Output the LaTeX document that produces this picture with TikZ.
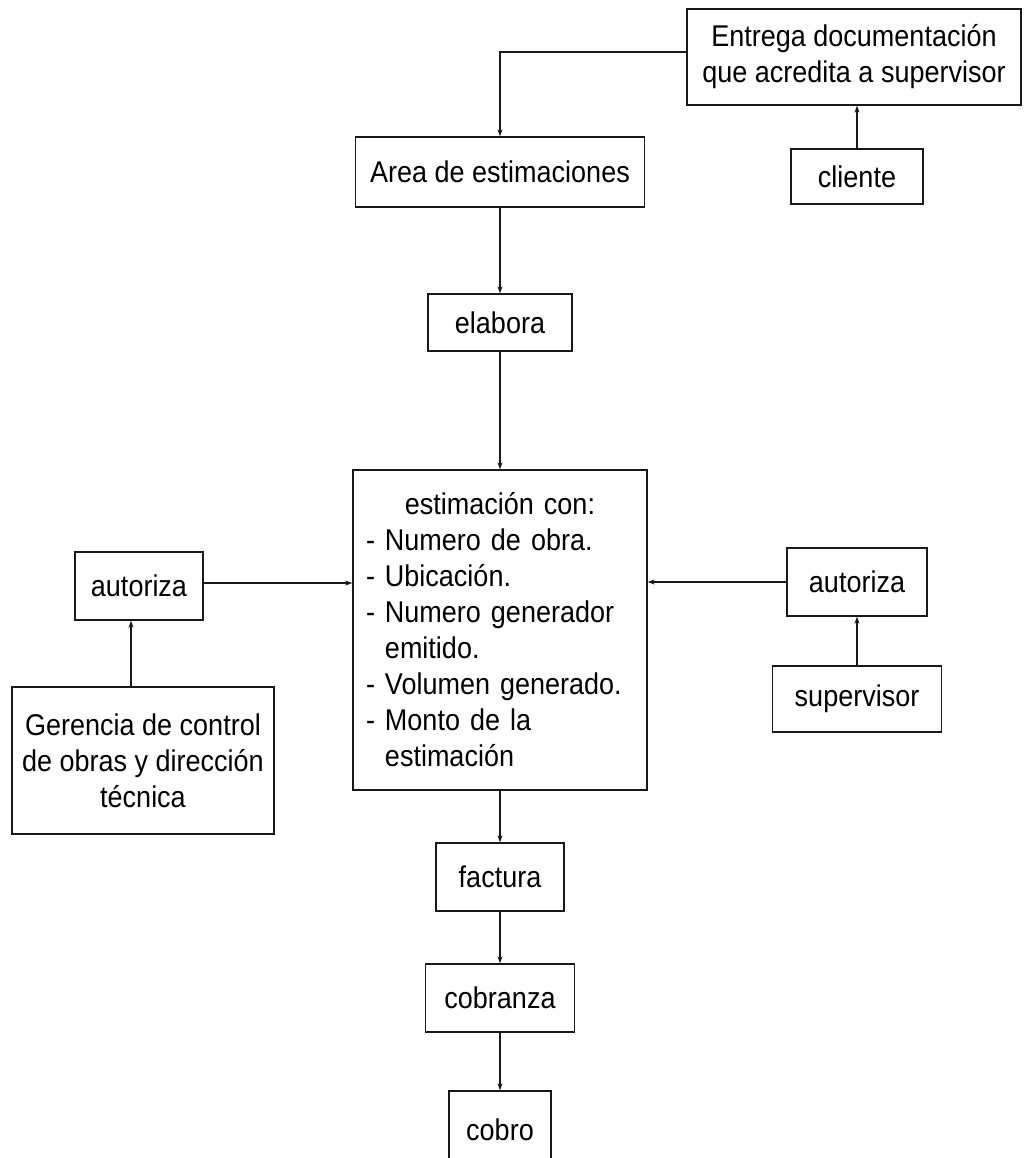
\documentclass[tikz,border=0pt]{standalone}
\usepackage{fontspec}
\setmainfont[FakeStretch=0.9]{Liberation Sans}
\usetikzlibrary{arrows.meta}

\begin{document}
\begin{tikzpicture}[x=1pt,y=-1pt,
  box/.style={draw=black!90, line width=1.3pt, inner sep=0pt, align=center,
    font={\fontsize{30}{36}\selectfont}},
  link/.style={draw=black!90, line width=1.4pt, -{Stealth[length=7pt,width=5pt]}}]

\useasboundingbox (0,0) rectangle (1025,1158);
\clip (0,0) rectangle (1025,1158);
\fill[white] (0,0) rectangle (1025,1158);

% top: delivery of documents and client
\node[box, minimum width=334pt, minimum height=96pt] (entrega) at (854,57)
  {Entrega documentación\\que acredita a supervisor};
\node[box, minimum width=132pt, minimum height=55pt] (cliente) at (857,176.5) {cliente};

% main column
\node[box, minimum width=289pt, minimum height=70pt] (area) at (500,172) {Area de estimaciones};
\node[box, minimum width=144pt, minimum height=57pt] (elabora) at (500,322.5) {elabora};
\node[box, minimum height=320pt, text width=268pt, inner xsep=13pt, align=left] (est) at (500,630)
  {\makebox[\linewidth]{estimación con:}\\
   - Numero de obra.\\
   - Ubicación.\\
   - Numero generador\\
   \hphantom{- }emitido.\\
   - Volumen generado.\\
   - Monto de la\\
   \hphantom{- }estimación};
\node[box, minimum width=128pt, minimum height=68pt] (factura) at (500,877) {factura};
\node[box, minimum width=149pt, minimum height=68pt] (cobranza) at (500,998) {cobranza};
\node[box, minimum width=102pt, minimum height=78pt] (cobro) at (500,1130) {cobro};

% left branch
\node[box, minimum width=128pt, minimum height=68pt] (autL) at (139,586) {autoriza};
\node[box, minimum width=262pt, minimum height=147pt] (ger) at (143,760.5)
  {Gerencia de control\\de obras y dirección\\técnica};
\coordinate (gx) at (131,700);

% right branch
\node[box, minimum width=140pt, minimum height=68pt] (autR) at (857,582) {autoriza};
\node[box, minimum width=169pt, minimum height=66pt] (sup) at (857,699) {supervisor};

% connectors
\draw[link] ([yshift=5pt]entrega.west) -| (area.north);
\draw[link] (cliente.north) -- (cliente.north |- entrega.south);
\draw[link] (area.south) -- (elabora.north);
\draw[link] (elabora.south) -- (est.north);
\draw[link] ([yshift=3pt]autL.east) -- ([yshift=3pt]autL.east -| est.west);
\draw[link] (ger.north -| gx) -- (autL.south -| gx);
\draw[link] (autR.west) -- (autR.west -| est.east);
\draw[link] (sup.north) -- (autR.south);
\draw[link] (est.south) -- (factura.north);
\draw[link] (factura.south) -- (cobranza.north);
\draw[link] (cobranza.south) -- (cobro.north);
\end{tikzpicture}
\end{document}
